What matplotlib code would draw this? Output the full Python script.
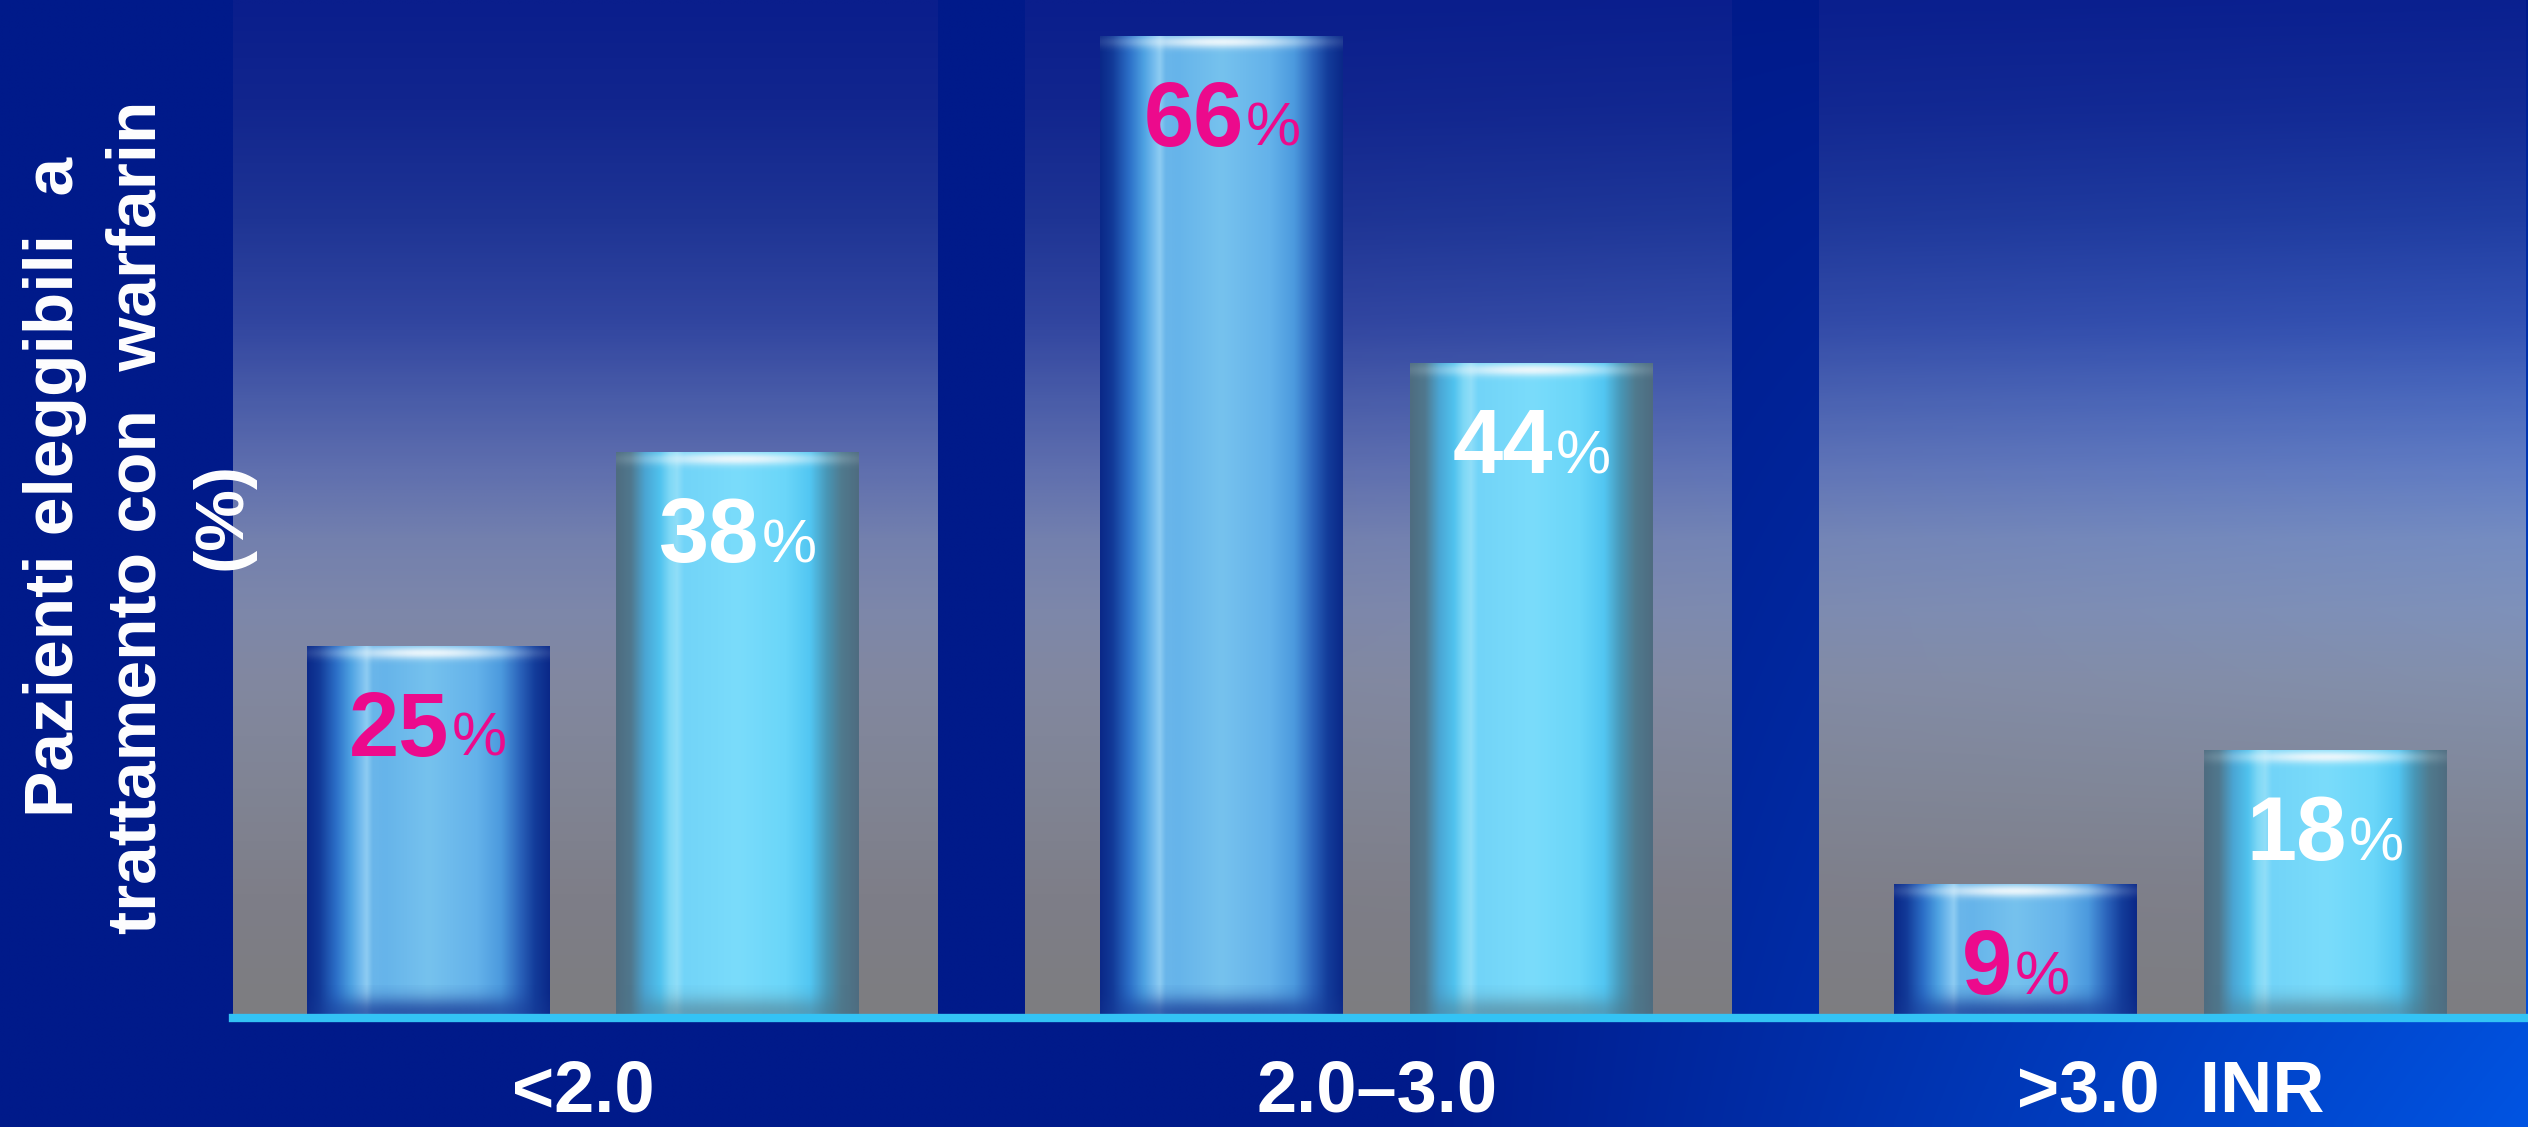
import numpy as np
import matplotlib
matplotlib.use('Agg')
import matplotlib.pyplot as plt
from matplotlib.colors import LinearSegmentedColormap, to_rgb

# ---------------- data ----------------
categories = ['<2.0', '2.0–3.0', '>3.0  INR']
series_a = [25, 66, 9]     # first bar of each pair (pink labels)
series_b = [38, 44, 18]    # second bar of each pair (white labels)
ylabel_lines = ['Pazienti eleggibili  a', 'trattamento con  warfarin', '(%)']

# ---------------- figure ----------------
W, H, DPI = 2528, 1127, 100
fig = plt.figure(figsize=(W / DPI, H / DPI), dpi=DPI)
FONT = ['Liberation Sans', 'DejaVu Sans']

# background (navy, brightening toward bottom-right)
bg = fig.add_axes([0, 0, 1, 1], zorder=-10)
bg.set_axis_off()
xx = np.linspace(0, 1, 400)[None, :]
yy = np.linspace(0, 1, 200)[:, None]
navy = np.array(to_rgb('#001A8A'))
bright = np.array(to_rgb('#0054E2'))
f = np.clip((xx - 0.56) / 0.44, 0, 1) * yy ** 0.8
bimg = navy * (1 - f[..., None]) + bright * f[..., None]
bg.imshow(bimg, extent=[0, 1, 0, 1], aspect='auto', origin='upper', interpolation='bilinear')
bg.set_xlim(0, 1)
bg.set_ylim(0, 1)

# main axes
AX_LEFT_PX, BASE_PX = 233, 1018
ax = fig.add_axes([AX_LEFT_PX / W, 1 - BASE_PX / H, 1 - AX_LEFT_PX / W, BASE_PX / H])
ax.set_facecolor('none')
XLIM = (-0.4406, 2.45)
YLIM = (0, 68.39)
ax.set_xlim(*XLIM)
ax.set_ylim(*YLIM)
ax.set_axis_off()

# panels (vertical gradient)
panel_stops = [(0.0, '#0A1E8C'), (0.106, '#12268E'), (0.212, '#1E3494'), (0.318, '#3246A0'),
               (0.388, '#485BA8'), (0.458, '#5E6EAE'), (0.529, '#7380AE'), (0.6, '#7D87AA'),
               (0.67, '#8288A0'), (0.776, '#808494'), (0.882, '#7E7E88'), (1.0, '#7D7D80')]
cmap_panel = LinearSegmentedColormap.from_list('panel', panel_stops)
xpos = np.arange(len(categories))
for i in xpos:
    x0, x1 = i - 0.443, min(i + 0.447, XLIM[1])
    fy = np.linspace(0, 1, 300)[:, None]
    base = cmap_panel(fy.ravel())[:, :3][:, None, :]
    xs = np.linspace(x0, x1, 60)[None, :]
    t = np.clip((xs - 0.9) / 1.55, 0, 1)
    bump = np.exp(-((fy - 0.42) / 0.32) ** 2)
    delta = np.array([2, 14, 22]) / 255
    pimg = np.clip(base + (t * bump)[..., None] * delta, 0, 1)
    ax.imshow(pimg, extent=[x0, x1, 0, YLIM[1]], aspect='auto', origin='upper',
              interpolation='bilinear', zorder=1)

# baseline
ax.axhline(0, color='#33C3F5', lw=6, clip_on=False, zorder=5)

# bars
BW, OFF = 0.306, 0.195
bars_a = ax.bar(xpos - OFF, series_a, width=BW, color='none', edgecolor='none', zorder=3)
bars_b = ax.bar(xpos + OFF, series_b, width=BW, color='none', edgecolor='none', zorder=3)

prof_a = [(0.0, '#0A2888'), (0.05, '#123A98'), (0.12, '#2C70C8'), (0.18, '#4EA2E2'),
          (0.22, '#74BCEE'), (0.245, '#8ECCF2'), (0.27, '#6AB6EA'), (0.32, '#66B4EA'),
          (0.5, '#76C2EE'), (0.7, '#64B2EA'), (0.8, '#4C9ADE'), (0.88, '#2A62BA'),
          (0.94, '#133C9A'), (1.0, '#0A2888')]
prof_b = [(0.0, '#4E6C80'), (0.06, '#50788E'), (0.12, '#4AA6D4'), (0.18, '#50C2EE'),
          (0.22, '#7ED8F6'), (0.25, '#90DEF8'), (0.28, '#72D4F8'), (0.5, '#7ADCFB'),
          (0.7, '#6AD6F9'), (0.8, '#52C6F2'), (0.87, '#4896B6'), (0.93, '#507A8E'),
          (1.0, '#4E6C80')]
cm_a = LinearSegmentedColormap.from_list('ba', prof_a)
cm_b = LinearSegmentedColormap.from_list('bb', prof_b)


def glow(color, u_sigma, v_sigma, v_center, v_range, amp, nx=80, ny=40, power=2):
    u = np.linspace(-0.5, 0.5, nx)[None, :]
    v = np.linspace(v_range[1], v_range[0], ny)[:, None]
    a = amp * np.exp(-0.5 * (np.abs(u / u_sigma) ** power + ((v - v_center) / v_sigma) ** 2))
    img = np.zeros((ny, nx, 4))
    img[..., :3] = to_rgb(color)
    img[..., 3] = a
    return img


def draw_bar(rect, cmap, bottom_color, bottom_amp):
    x, w, h = rect.get_x(), rect.get_width(), rect.get_height()
    grad = cmap(np.linspace(0, 1, 256))[None, :, :3].repeat(2, axis=0)
    im = ax.imshow(grad, extent=[x, x + w, 0, h], aspect='auto', interpolation='bilinear', zorder=3)
    im.set_clip_path(rect)
    # top highlight (cylinder cap)
    dv = 1.6
    g = glow('#F0F8FC', 0.24, 0.30, -0.45, (-dv, 0.0), 0.95, power=2)
    im2 = ax.imshow(g, extent=[x, x + w, h - dv, h], aspect='auto', interpolation='bilinear', zorder=4)
    im2.set_clip_path(rect)
    # bottom shading
    dvb = 2.2
    g2 = glow(bottom_color, 0.42, 0.75, 0.35, (0.0, dvb), bottom_amp, power=4)
    im3 = ax.imshow(g2, extent=[x, x + w, 0, dvb], aspect='auto', interpolation='bilinear', zorder=4)
    im3.set_clip_path(rect)


for r in bars_a:
    draw_bar(r, cm_a, '#173A96', 0.75)
for r in bars_b:
    draw_bar(r, cm_b, '#4E7486', 0.55)

# value labels
LABEL_DROP_PT = -110 * 72 / DPI
labels = []
for bars, vals, col in ((bars_a, series_a, '#EC0A8C'), (bars_b, series_b, 'white')):
    for r, v in zip(bars, vals):
        cx = r.get_x() + r.get_width() / 2
        top = r.get_height()
        t1 = ax.annotate(f'{v}', (cx, top), xytext=(0, LABEL_DROP_PT), textcoords='offset points',
                         ha='left', va='baseline', fontsize=65, fontweight='bold', color=col,
                         family=FONT, zorder=6)
        t2 = ax.annotate('%', (cx, top), xytext=(0, LABEL_DROP_PT), textcoords='offset points',
                         ha='left', va='baseline', fontsize=44.6, fontweight='medium', color=col,
                         family=FONT, zorder=6)
        labels.append((t1, t2))

fig.canvas.draw()
renderer = fig.canvas.get_renderer()
GAP = 2
for t1, t2 in labels:
    w1 = t1.get_window_extent(renderer).width
    w2 = t2.get_window_extent(renderer).width
    total = w1 + GAP + w2
    start = -total / 2
    t1.set_position((start * 72 / DPI, LABEL_DROP_PT))
    t2.set_position(((start + w1 + GAP) * 72 / DPI, LABEL_DROP_PT))

# category labels
for i, c in enumerate(categories):
    ax.text(xpos[i], -93 / BASE_PX, c, transform=ax.get_xaxis_transform(), ha='center',
            va='baseline', fontsize=52, fontweight='bold', color='white', family=FONT,
            clip_on=False, zorder=6)

# y label (three rotated lines)
ylab_pos = [(73, 487), (156, 517), (240, 516)]
for line, (px, py) in zip(ylabel_lines, ylab_pos):
    fig.text(px / W, 1 - py / H, line, rotation=90, rotation_mode='anchor', ha='center',
             va='baseline', fontsize=50, fontweight='bold', color='white', family=FONT, zorder=10)

ax.set_xlim(*XLIM)
ax.set_ylim(*YLIM)
fig.savefig('out.png', dpi=DPI, facecolor='#001A8A')
